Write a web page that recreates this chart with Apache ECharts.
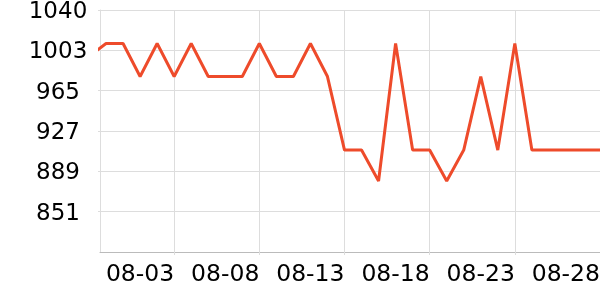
<!DOCTYPE html>
<html>
<head>
<meta charset="utf-8">
<script src="https://cdn.jsdelivr.net/npm/echarts@6/dist/echarts.min.js"></script>
<style>
html,body{margin:0;padding:0;background:#fff;}
#chart{width:600px;height:300px;}
</style>
</head>
<body>
<div id="chart"></div>
<script>
var dates = ['2024-07-29','2024-07-30','2024-07-31','2024-08-01','2024-08-02','2024-08-03','2024-08-04','2024-08-05','2024-08-06','2024-08-07','2024-08-08','2024-08-09','2024-08-10','2024-08-11','2024-08-12','2024-08-13','2024-08-14','2024-08-15','2024-08-16','2024-08-17','2024-08-18','2024-08-19','2024-08-20','2024-08-21','2024-08-22','2024-08-23','2024-08-24','2024-08-25','2024-08-26','2024-08-27','2024-08-28'];
var values = [997,1009,1009,978,1009,978,1009,978,978,978,1009,978,978,1009,978,909,909,880,1009,909,909,880,909,978,909,1009,909,909,909,909,909];
var xTickDates = ['2024-08-03','2024-08-08','2024-08-13','2024-08-18','2024-08-23','2024-08-28'];
var xTickLabels = ['08-03','08-08','08-13','08-18','08-23','08-28'];
var yTickLabels = ['851','889','927','965','1003','1040'];
var xMin = '2024-07-29T15:30:00Z';
var xMax = '2024-08-28';
var yMin = 813.35, yMax = 1040.45, yStep = 37.85;

function t(s){ return Date.parse(s.length === 10 ? s + 'T00:00:00Z' : s); }
var xTickTimes = xTickDates.map(t);

var chart = echarts.init(document.getElementById('chart'), null, {renderer:'canvas'});
chart.setOption({
  animation:false,
  grid:{left:100,right:0,top:10,bottom:48,containLabel:false,outerBoundsMode:'none'},
  xAxis:{
    type:'value',
    min:t(xMin), max:t(xMax),
    axisLine:{show:true,lineStyle:{color:'#bbbbbb',width:1}},
    axisTick:{show:true,length:3,lineStyle:{color:'#dddddd'},customValues:xTickTimes},
    splitLine:{show:true,lineStyle:{color:'#dddddd',width:1}},
    axisLabel:{
      customValues:xTickTimes,
      showMinLabel:true, showMaxLabel:true,
      align:'right',
      margin:11,
      fontFamily:'DejaVu Sans',
      fontSize:23.5,
      color:'#000',
      formatter:function(v){
        for (var j=0;j<xTickTimes.length;j++){ if (Math.abs(xTickTimes[j]-v)<1000) return xTickLabels[j]; }
        return '';
      }
    }
  },
  yAxis:{
    type:'value',
    min:yMin, max:yMax, interval:yStep,
    axisLine:{show:true,lineStyle:{color:'#dddddd',width:1}},
    axisTick:{show:true,length:2,lineStyle:{color:'#dddddd'}},
    splitLine:{show:true,lineStyle:{color:'#dddddd',width:1}},
    axisLabel:{
      showMinLabel:false,
      align:'center',
      margin:42,
      fontFamily:'DejaVu Sans',
      fontSize:23,
      color:'#000',
      formatter:function(v){
        var r = String(Math.round(v));
        return yTickLabels.indexOf(r)>=0 ? '{a|' + r + '}' : '';
      },
      rich:{a:{fontFamily:'DejaVu Sans',fontSize:23,color:'#000',padding:[4,0,0,0]}}
    }
  },
  series:[{
    type:'line',
    data:dates.map(function(d,i){return [t(d), values[i]];}),
    showSymbol:false,
    symbol:'none',
    clip:true,
    lineStyle:{color:'#ee4b2b',width:3},
    itemStyle:{color:'#ee4b2b'}
  }]
});
</script>
</body>
</html>
